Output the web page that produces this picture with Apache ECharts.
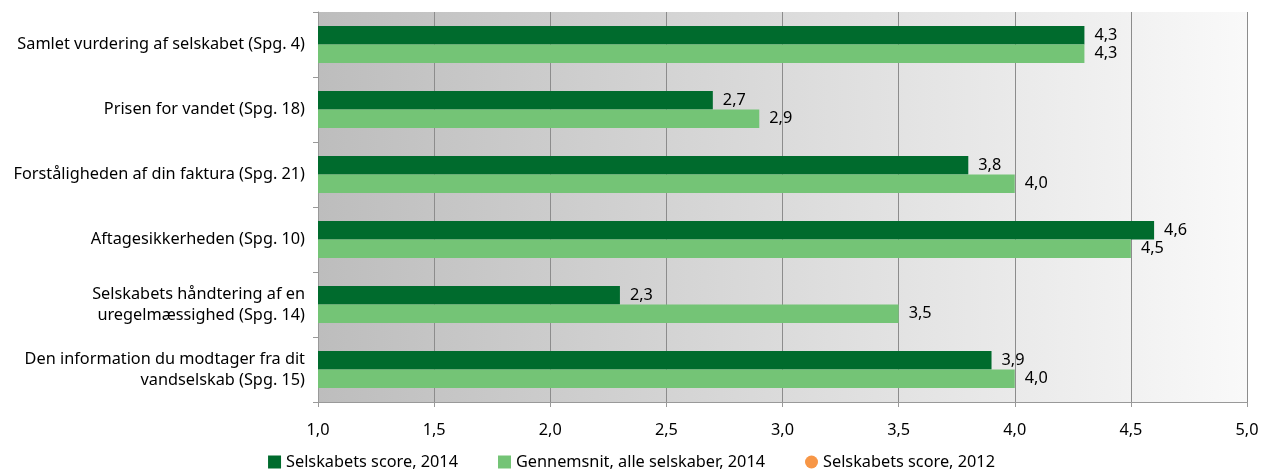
<!DOCTYPE html>
<html>
<head>
<meta charset="utf-8">
<script src="https://cdn.jsdelivr.net/npm/echarts@6/dist/echarts.min.js"></script>
<style>
  html, body { margin: 0; padding: 0; background: #fff; }
  #chart { width: 1263px; height: 475px; }
</style>
</head>
<body>
<div id="chart"></div>
<script>
// kategorier, nederst først (y-aksen tegnes nedefra)
const categories = [
  'Den information du modtager fra dit\nvandselskab (Spg. 15)',
  'Selskabets håndtering af en\nuregelmæssighed (Spg. 14)',
  'Aftagesikkerheden (Spg. 10)',
  'Forståligheden af din faktura (Spg. 21)',
  'Prisen for vandet (Spg. 18)',
  'Samlet vurdering af selskabet (Spg. 4)'
];
const score2014 = [3.9, 2.3, 4.6, 3.8, 2.7, 4.3];
const gennemsnit2014 = [4.0, 3.5, 4.5, 4.0, 2.9, 4.3];
const score2012 = [];
const xTicks = { min: 1, max: 5, step: 0.5 };

const chart = echarts.init(document.getElementById('chart'));
const font = 'Noto Sans';
const fs = 16.3;
const fmt = v => v.toFixed(1).replace('.', ',');

chart.setOption({
  animation: false,
  textStyle: { fontFamily: font },
  grid: {
    left: 318, right: 16, top: 12, bottom: 73,
    show: true,
    borderWidth: 0,
    // grå gradient bag plottet
    backgroundColor: new echarts.graphic.LinearGradient(0, 0, 1, 0, [
      { offset: 0, color: '#bdbdbd' },
      { offset: 1, color: '#f9f9f9' }
    ])
  },
  legend: {
    bottom: 0,
    left: 'center',
    itemGap: 40,
    itemWidth: 13,
    itemHeight: 13,
    textStyle: { fontSize: fs, color: '#000', fontFamily: font },
    data: [
      { name: 'Selskabets score, 2014', icon: 'rect' },
      { name: 'Gennemsnit, alle selskaber, 2014', icon: 'rect' },
      { name: 'Selskabets score, 2012', icon: 'circle' }
    ]
  },
  xAxis: {
    type: 'value',
    min: xTicks.min,
    max: xTicks.max,
    interval: xTicks.step,
    axisLine: { show: true, lineStyle: { color: '#999', width: 1 } },
    axisTick: { show: true, length: 5, lineStyle: { color: '#999' } },
    axisLabel: {
      margin: 20,
      fontSize: fs,
      color: '#000',
      formatter: v => fmt(v)
    },
    splitLine: { show: true, lineStyle: { color: '#8c8c8c', width: 1 } }
  },
  yAxis: {
    type: 'category',
    data: categories,
    axisLine: { show: true, lineStyle: { color: '#999', width: 1 } },
    axisTick: { show: true, length: 5, lineStyle: { color: '#999' } },
    axisLabel: {
      margin: 13,
      fontSize: fs,
      lineHeight: 21,
      color: '#000',
      align: 'right'
    },
    splitLine: { show: false }
  },
  series: [
    {
      name: 'Selskabets score, 2014',
      type: 'bar',
      data: score2014,
      barGap: '0%',
      barCategoryGap: '43%',
      itemStyle: { color: '#006b2d' },
      label: {
        show: true, position: 'right', distance: 10,
        fontSize: fs, color: '#000', formatter: p => fmt(p.value)
      }
    },
    {
      name: 'Gennemsnit, alle selskaber, 2014',
      type: 'bar',
      data: gennemsnit2014,
      itemStyle: { color: '#74c476' },
      label: {
        show: true, position: 'right', distance: 10,
        fontSize: fs, color: '#000', formatter: p => fmt(p.value)
      }
    },
    {
      name: 'Selskabets score, 2012',
      type: 'scatter',
      data: score2012,
      itemStyle: { color: '#f79646', opacity: 1 }
    }
  ]
});
</script>
</body>
</html>
